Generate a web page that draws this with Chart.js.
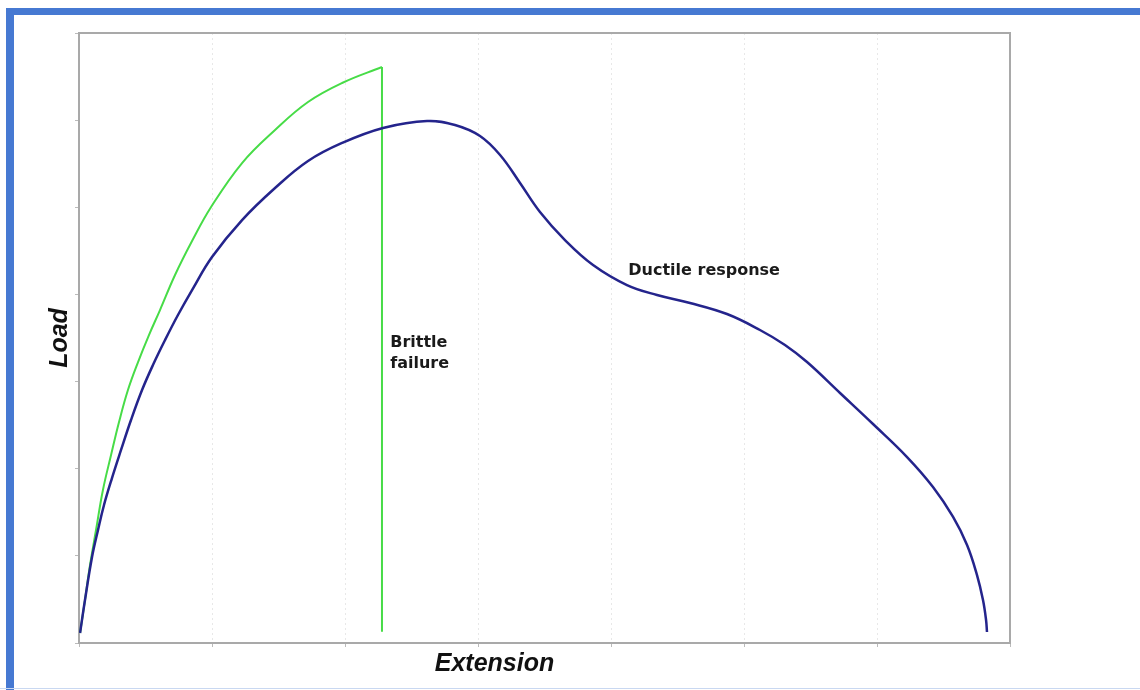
<!DOCTYPE html>
<html>
<head>
<meta charset="utf-8">
<script src="https://cdn.jsdelivr.net/npm/chart.js@4/dist/chart.umd.min.js"></script>
<style>
  body { margin: 0; background: #fff; overflow: hidden; }
  .frame { position: absolute; left: 6px; top: 8px; width: 1200px; height: 700px;
           border-top: 7px solid #4679d2; border-left: 8px solid #4679d2; }
  .bottomline { position: absolute; left: 0; top: 688px; width: 1140px; height: 1px; background: #c9d8f1; }
  #wrap { position: absolute; left: 0; top: 0; width: 1140px; height: 690px; }
</style>
</head>
<body>
<div class="frame"></div>
<div class="bottomline"></div>
<div id="wrap"><canvas id="Grafico1" width="1140" height="690"></canvas></div>
<script>
// ductile curve (blue)
const ductileX = [0.08, 0.45, 0.98, 1.43, 1.88, 2.48, 3.16, 3.91, 4.74, 5.56, 6.47, 7.44, 8.5, 10.0, 12.26, 14.74, 17.22, 19.78, 22.86, 26.17, 28.27, 30.15, 31.66, 33.16, 34.66, 36.54, 38.65, 41.2, 43.46, 45.94, 48.72, 51.2, 53.08, 54.74, 57.22, 59.7, 62.26, 64.21, 65.72, 66.77, 67.52, 67.97, 68.2, 68.27];
const ductileY = [1.15, 4.93, 9.87, 12.97, 15.84, 18.93, 22.15, 25.59, 29.03, 31.9, 34.77, 37.64, 40.5, 44.29, 48.53, 52.21, 55.31, 57.38, 59.1, 59.9, 59.44, 58.18, 56.0, 52.79, 49.46, 46.24, 43.38, 41.08, 39.93, 39.02, 37.75, 35.92, 34.2, 32.24, 28.69, 25.13, 21.34, 17.9, 14.46, 11.25, 7.8, 4.93, 2.64, 1.26];

// brittle curve (green) + the drop at failure
const brittleX = [0.08, 0.45, 0.83, 1.28, 1.8, 2.41, 3.01, 3.68, 4.44, 5.26, 6.09, 7.22, 8.5, 9.93, 12.26, 14.74, 17.22, 19.78, 22.78];
const brittleY = [1.15, 4.93, 8.95, 12.97, 17.56, 21.57, 25.36, 29.03, 32.24, 35.34, 38.21, 42.23, 46.13, 50.03, 55.08, 58.87, 62.08, 64.26, 66.1];
const failureX = [22.78, 22.78];
const failureY = [66.1, 1.3];

const axisTitles = ['Extension', 'Load'];
const notes = [
  { text: ['Brittle', 'failure'], x: 23.4, y: 34.5 },
  { text: ['Ductile response'], x: 41.3, y: 42.7 }
];

const toPoints = (xs, ys) => xs.map((x, i) => ({ x: x, y: ys[i] }));

const textPlugin = {
  id: 'texts',
  beforeDatasetsDraw(chart) {
    const a = chart.chartArea, ctx = chart.ctx;
    ctx.save();
    ctx.strokeStyle = '#a9a9a9';
    ctx.lineWidth = 2;
    ctx.strokeRect(a.left, a.top, a.right - a.left, a.bottom - a.top);
    ctx.restore();
  },
  afterDraw(chart) {
    const a = chart.chartArea, ctx = chart.ctx;
    const xs = chart.scales.x, ys = chart.scales.y;
    ctx.save();
    ctx.fillStyle = '#111';
    ctx.font = 'italic bold 25px "Liberation Sans", Arial, sans-serif';
    ctx.textAlign = 'center';
    ctx.textBaseline = 'middle';
    ctx.fillText(axisTitles[0], (a.left + a.right) / 2 - 50, 664);
    ctx.translate(60, (a.top + a.bottom) / 2);
    ctx.rotate(-Math.PI / 2);
    ctx.fillText(axisTitles[1], 0, 0);
    ctx.restore();

    ctx.save();
    ctx.fillStyle = '#1a1a1a';
    ctx.font = 'bold 16px "DejaVu Sans", sans-serif';
    ctx.textAlign = 'left';
    ctx.textBaseline = 'middle';
    notes.forEach(n => {
      const px = xs.getPixelForValue(n.x), py = ys.getPixelForValue(n.y);
      n.text.forEach((t, i) => ctx.fillText(t, px, py + i * 21));
    });
    ctx.restore();
  }
};

const data = {
  datasets: [
    { label: 'Ductile', data: toPoints(ductileX, ductileY), borderColor: '#24248c', borderWidth: 2.5, tension: 0.4 },
    { label: 'Brittle', data: toPoints(brittleX, brittleY), borderColor: '#47dc47', borderWidth: 2, tension: 0.4 },
    { label: 'Failure', data: toPoints(failureX, failureY), borderColor: '#47dc47', borderWidth: 2, tension: 0 }
  ]
};

const config = {
  type: 'line',
  data: data,
  options: {
    responsive: false,
    animation: false,
    layout: { padding: { left: 79, top: 33, right: 130, bottom: 47 } },
    elements: { point: { radius: 0 } },
    plugins: { legend: { display: false }, tooltip: { enabled: false } },
    scales: {
      x: {
        type: 'linear', min: 0, max: 70,
        ticks: { display: false, stepSize: 10 },
        grid: { color: '#e8e8e8', lineWidth: 1, tickLength: 4, tickColor: '#bbb' },
        border: { display: false, dash: [2, 3] },
        afterFit: s => { s.height = 0; }
      },
      y: {
        type: 'linear', min: 0, max: 70,
        ticks: { display: false, stepSize: 10 },
        grid: { drawOnChartArea: false, tickLength: 4, tickColor: '#bbb' },
        border: { display: false },
        afterFit: s => { s.width = 0; }
      }
    }
  },
  plugins: [textPlugin]
};

var myChart = new Chart(document.getElementById('Grafico1'), config);
</script>
</body>
</html>
